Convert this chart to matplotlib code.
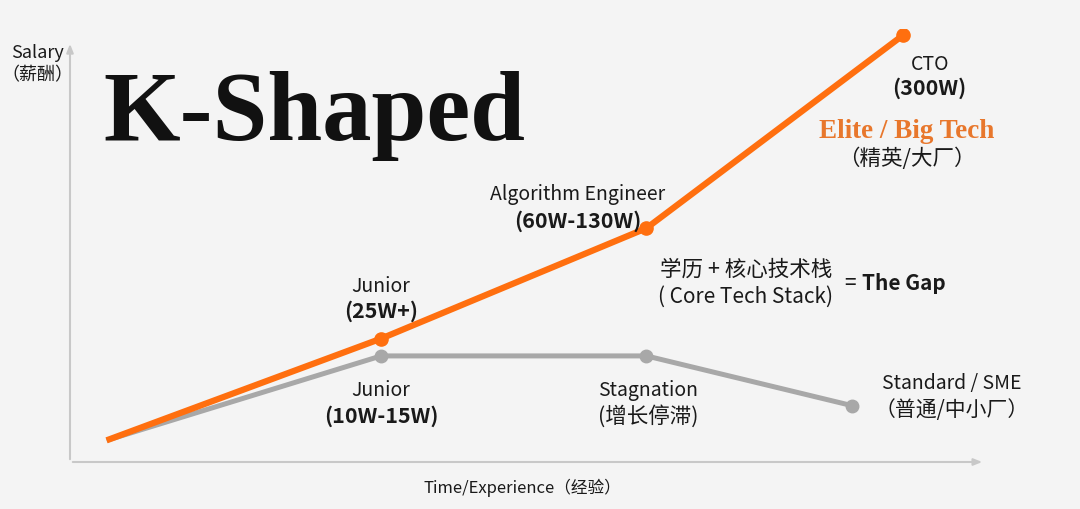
import matplotlib.pyplot as plt

plt.rcParams["font.family"] = ["Noto Sans CJK SC", "DejaVu Sans"]

# experience (x) vs salary (y), arbitrary units
elite_x = [0.4, 3.4, 6.3, 9.1]
elite_y = [0.5, 2.85, 5.4, 9.85]
common_x = [0.4, 3.4, 6.3, 8.55]
common_y = [0.5, 2.45, 2.45, 1.3]

ORANGE = "#FF6F0F"
GREY = "#A8A8A8"
TEXT = "#1A1A1A"
BG = "#F4F4F4"

fig = plt.figure(figsize=(10.8, 5.1), dpi=100, facecolor=BG)
ax = fig.add_axes([70 / 1080, 47 / 510, 915 / 1080, 433 / 510])
ax.set_facecolor(BG)
ax.set_xlim(0, 10)
ax.set_ylim(0, 10)
ax.axis("off")

# axes with arrows
arrow = dict(arrowstyle="-|>,head_length=0.5,head_width=0.2", color="#C8C8C8", lw=1.5)
ax.annotate("", xy=(0, 0.972), xytext=(0, 0), xycoords="axes fraction", arrowprops=arrow)
ax.annotate("", xy=(1.0, 0), xytext=(0, 0), xycoords="axes fraction", arrowprops=arrow)

ax.plot(common_x[1:], common_y[1:], color=GREY, lw=3.6, marker="o", ms=9,
        solid_capstyle="butt", zorder=2)
ax.plot(common_x[:2], common_y[:2], color=GREY, lw=3.6, solid_capstyle="butt", zorder=2)
ax.plot(elite_x[1:], elite_y[1:], color=ORANGE, lw=4.5, marker="o", ms=9.5,
        solid_capstyle="butt", zorder=3)
ax.plot(elite_x[:2], elite_y[:2], color=ORANGE, lw=4.5, solid_capstyle="butt", zorder=3)

# axis titles
fig.text(37 / 1080, 1 - 53 / 510, "Salary", ha="center", va="center", fontsize=13, color=TEXT)
fig.text(37 / 1080, 1 - 75 / 510, "（薪酬）", ha="center", va="center", fontsize=13, color=TEXT)
fig.text(522 / 1080, 1 - 488 / 510, "Time/Experience（经验）", ha="center", va="center",
         fontsize=12, color=TEXT)

# big title
fig.text(103 / 1080, 1 - 140 / 510, "K-Shaped", ha="left", va="baseline",
         fontsize=71, fontweight="bold", family="Liberation Serif", color="#111111")


def label(x, y, top, bottom, dy_top, dy_bot, dx=0, bold_bottom=True,
          size_top=14, size_bot=15.5):
    ax.annotate(top, (x, y), xytext=(dx, dy_top), textcoords="offset pixels",
                ha="center", va="center", fontsize=size_top, color=TEXT)
    ax.annotate(bottom, (x, y), xytext=(dx, dy_bot), textcoords="offset pixels",
                ha="center", va="center", fontsize=size_bot, color=TEXT,
                fontweight="bold" if bold_bottom else "normal")


# elite branch labels
label(elite_x[3], elite_y[3], "CTO", "(300W)", -28, -52, dx=27)
label(elite_x[2], elite_y[2], "Algorithm Engineer", "(60W-130W)", 35, 8, dx=-69)
label(elite_x[1], elite_y[1], "Junior", "(25W+)", 53, 28)
# common branch labels
label(common_x[1], common_y[1], "Junior", "(10W-15W)", -34, -59)
label(common_x[2], common_y[2], "Stagnation", "(增长停滞)", -34, -59, dx=2,
      bold_bottom=False, size_bot=15.5)
label(common_x[3], common_y[3], "Standard / SME", "（普通/中小厂）", 23, -3, dx=99,
      bold_bottom=False, size_bot=15)

fig.text(907 / 1080, 1 - 131 / 510, "Elite / Big Tech", ha="center", va="center",
         fontsize=19.5, fontweight="bold", family="Liberation Serif", color="#E8772C")
fig.text(907 / 1080, 1 - 159 / 510, "（精英/大厂）", ha="center", va="center",
         fontsize=15.5, color=TEXT)

fig.text(746 / 1080, 1 - 270 / 510, "学历 + 核心技术栈", ha="center", va="center",
         fontsize=15.5, color=TEXT)
fig.text(746 / 1080, 1 - 297 / 510, "( Core Tech Stack)", ha="center", va="center",
         fontsize=15, color=TEXT)
fig.text(844 / 1080, 1 - 284 / 510, "=", ha="left", va="center", fontsize=15, color=TEXT)
fig.text(862 / 1080, 1 - 284 / 510, "The Gap", ha="left", va="center", fontsize=15,
         fontweight="bold", color=TEXT)

fig.savefig("out.png", dpi=100, facecolor=BG)
